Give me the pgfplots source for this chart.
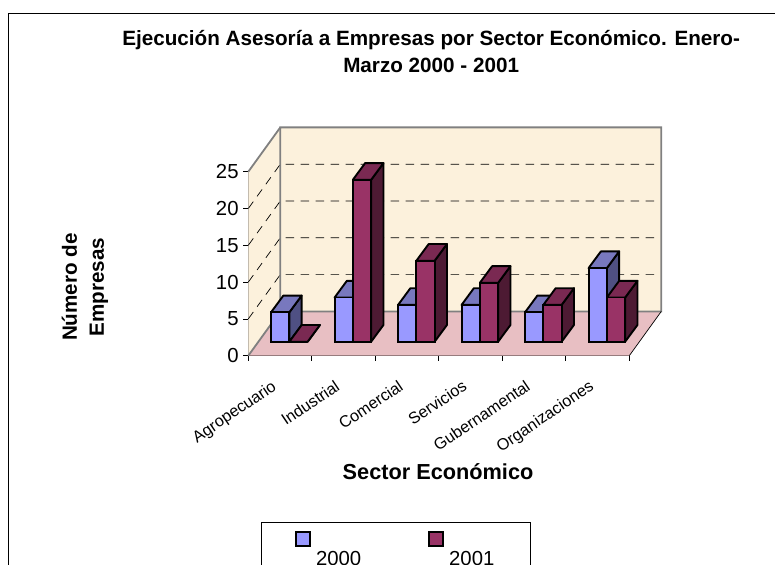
\documentclass[border=0pt]{standalone}
\usepackage{fontspec}
\setmainfont{Liberation Sans}
\usepackage{pgfplots}
\usepackage{pgfplotstable}
\pgfplotsset{compat=1.18}

\definecolor{wall}{HTML}{FCF1DC}
\definecolor{floorc}{HTML}{E8BFC3}
\definecolor{edge}{HTML}{808080}
\definecolor{afront}{HTML}{9999FF}
\definecolor{atop}{HTML}{7878BE}
\definecolor{aside}{HTML}{4F5083}
\definecolor{bfront}{HTML}{993366}
\definecolor{btop}{HTML}{7A2952}
\definecolor{bside}{HTML}{4D1A33}

\pgfplotstableread{
x    y2000 y2001
0.5  4     0
1.5  6     22
2.5  5     11
3.5  5     8
4.5  4     5
5.5  10    6
}\sectores

% side and top of one bar: left edge, value, top colour, side colour
\newcommand{\caras}[4]{%
  \pgfmathsetmacro{\xa}{#1}%
  \pgfmathsetmacro{\xb}{#1+0.288}%
  \pgfmathsetmacro{\xc}{#1+0.288+0.194}%
  \pgfmathsetmacro{\xd}{#1+0.194}%
  \pgfmathsetmacro{\yt}{#2+2.27}%
  \addplot[forget plot,fill=#4,draw=black,line width=1.9bp,line join=round,xshift=9.3bp,yshift=14bp]
    coordinates {(\xb,0) (\xc,2.27) (\xc,\yt) (\xb,#2)} -- cycle;
  \addplot[forget plot,fill=#3,draw=black,line width=1.9bp,line join=round,xshift=9.3bp,yshift=14bp]
    coordinates {(\xa,#2) (\xb,#2) (\xc,\yt) (\xd,\yt)} -- cycle;
}

\begin{document}
\begin{tikzpicture}
\path[use as bounding box] (0,0) rectangle (775bp,-565bp);
\draw[black,line width=1bp] (8.3bp,-575bp) -- (8.3bp,-13.7bp) -- (785bp,-13.7bp);
\begin{axis}[
    at={(248.3bp,-355.7bp)}, anchor=south west,
    scale only axis, width=381bp, height=184bp,
    clip=false,
    xmin=0, xmax=6, ymin=0, ymax=25,
    axis x line*=bottom, axis y line*=left,
    x axis line style={black,line width=1bp},
    y axis line style={black!65,line width=1.4bp},
    xtick={0,1,2,3,4,5,6},
    x tick label as interval,
    xticklabels={Agropecuario,Industrial,Comercial,Servicios,Gubernamental,Organizaciones},
    ytick={0,5,10,15,20,25},
    /pgf/number format/assume math mode=true,
    tick align=outside, major tick length=5bp,
    tick style={black,line width=.8bp},
    y tick label style={font=\fontsize{20.4}{24}\selectfont,inner sep=4.5bp},
    x tick label style={font=\fontsize{16.3}{20}\selectfont,rotate=34,anchor=north east,inner sep=1bp,yshift=-9bp,xshift=-17bp},
    title={Ejecución Asesoría a Empresas por Sector Económico. Enero-\\Marzo 2000 - 2001},
    title style={at={(axis description cs:0.48,1.755)},anchor=north,align=center,
      font=\fontsize{20.75}{27}\selectfont\bfseries},
    xlabel={Sector Económico},
    xlabel style={at={(axis description cs:0.498,-0.632)},anchor=center,
      font=\fontsize{21.8}{26}\selectfont\bfseries},
    ylabel={Número de\\Empresas},
    ylabel style={at={(axis description cs:-0.4286,0.373)},anchor=center,align=center,rotate=0,
      font=\fontsize{20.7}{27}\selectfont\bfseries},
    legend columns=2,
    legend style={at={(axis description cs:0.0328,-0.904)},anchor=north west,
      draw=black,line width=.8bp,inner xsep=34bp,inner ysep=9bp,
      font=\fontsize{20.4}{24}\selectfont,
      /tikz/every odd column/.append style={column sep=3bp},
      /tikz/every even column/.append style={column sep=65bp}},
]
% walls and floor
\addplot[forget plot,fill=wall,draw=none] coordinates {(0,0) (0.504,6.02) (0.504,31.02) (0,25)} -- cycle;
\addplot[forget plot,fill=wall,draw=none] coordinates {(0.504,6.02) (6.504,6.02) (6.504,31.02) (0.504,31.02)} -- cycle;
\addplot[forget plot,fill=floorc,draw=none] coordinates {(0,0) (6,0) (6.504,6.02) (0.504,6.02)} -- cycle;
% dashed grid
\addplot[forget plot,black,line width=.7bp,dash pattern=on 8.5bp off 6.5bp] coordinates {(0,5) (0.504,11.02) (6.45,11.02)};
\addplot[forget plot,black,line width=.7bp,dash pattern=on 8.5bp off 6.5bp] coordinates {(0,10) (0.504,16.02) (6.45,16.02)};
\addplot[forget plot,black,line width=.7bp,dash pattern=on 8.5bp off 6.5bp] coordinates {(0,15) (0.504,21.02) (6.45,21.02)};
\addplot[forget plot,black,line width=.7bp,dash pattern=on 8.5bp off 6.5bp] coordinates {(0,20) (0.504,26.02) (6.45,26.02)};
% wall edges
\addplot[forget plot,edge,line width=1.8bp] coordinates {(0,0) (0.504,6.02) (6.504,6.02) (6.504,31.02) (0.504,31.02) (0.504,6.02)};
\addplot[forget plot,edge,line width=1.8bp] coordinates {(0,25) (0.504,31.02)};
\addplot[forget plot,black,line width=.7bp] coordinates {(6,0) (6.504,6.02)};
% 2000
\caras{0.212}{4}{atop}{aside}
\caras{1.212}{6}{atop}{aside}
\caras{2.212}{5}{atop}{aside}
\caras{3.212}{5}{atop}{aside}
\caras{4.212}{4}{atop}{aside}
\caras{5.212}{10}{atop}{aside}
\addplot[ybar,bar width=18.3bp,bar shift=-9.15bp,xshift=9.3bp,yshift=14bp,fill=afront,draw=black,line width=1.9bp,
  legend image code/.code={\draw[fill=afront,draw=black,line width=1.9bp] (0bp,-1bp) rectangle (14bp,13bp);}]
  table[x=x,y=y2000] {\sectores};
\addlegendentry{2000}
% 2001
\caras{0.5}{0}{btop}{bside}
\caras{1.5}{22}{btop}{bside}
\caras{2.5}{11}{btop}{bside}
\caras{3.5}{8}{btop}{bside}
\caras{4.5}{5}{btop}{bside}
\caras{5.5}{6}{btop}{bside}
\addplot[ybar,bar width=18.3bp,bar shift=9.15bp,xshift=9.3bp,yshift=14bp,fill=bfront,draw=black,line width=1.9bp,
  legend image code/.code={\draw[fill=bfront,draw=black,line width=1.9bp] (0bp,-1bp) rectangle (14bp,13bp);}]
  table[x=x,y=y2001] {\sectores};
\addlegendentry{2001}
\end{axis}
\end{tikzpicture}
\end{document}
